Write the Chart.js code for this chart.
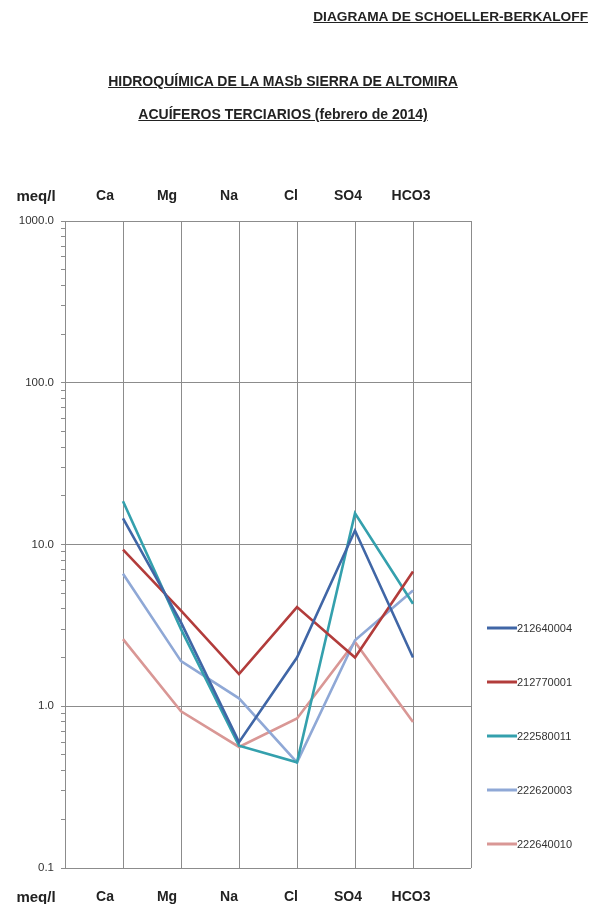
<!DOCTYPE html>
<html>
<head>
<meta charset="utf-8">
<script src="https://cdn.jsdelivr.net/npm/chart.js@4"></script>
<style>
  body { margin: 0; background: #fff; font-family: "Liberation Sans", Arial, sans-serif; }
  #wrap { position: relative; width: 593px; height: 904px; }
  canvas { position: absolute; left: 0; top: 0; }
  .t { position: absolute; font-weight: bold; color: #222; text-decoration: underline; white-space: nowrap; }
  .lab { position: absolute; font-weight: bold; font-size: 14px; color: #222; transform: translateX(-50%); white-space: nowrap; }
</style>
</head>
<body>
<div id="wrap">
  <canvas id="chart" width="593" height="904"></canvas>
  <div class="t" style="right:5px; top:9px; font-size:13.7px;">DIAGRAMA DE SCHOELLER-BERKALOFF</div>
  <div class="t" style="left:0; width:566px; text-align:center; top:73px; font-size:14px;">HIDROQUÍMICA DE LA MASb SIERRA DE ALTOMIRA</div>
  <div class="t" style="left:0; width:566px; text-align:center; top:106px; font-size:14px;">ACUÍFEROS TERCIARIOS (febrero de 2014)</div>
</div>
<script>
// Schoeller-Berkaloff diagram
var ions = ["Ca", "Mg", "Na", "Cl", "SO4", "HCO3"];
var unitLabel = "meq/l";
var yTickLabels = ["0.1", "1.0", "10.0", "100.0", "1000.0"];

var s212640004 = [14.5, 3.3, 0.6, 2.0, 12.2, 2.0];
var s212770001 = [9.3, 3.9, 1.58, 4.1, 2.0, 6.8];
var s222580011 = [18.5, 3.0, 0.57, 0.45, 15.6, 4.3];
var s222620003 = [6.6, 1.9, 1.12, 0.45, 2.56, 5.2];
var s222640010 = [2.6, 0.93, 0.56, 0.84, 2.5, 0.80];

var seriesNames = ["212640004", "212770001", "222580011", "222620003", "222640010"];
var seriesColors = ["#4066a6", "#b23c3b", "#34a0ad", "#8fa8d6", "#d99795"];
var seriesValues = [s212640004, s212770001, s222580011, s222620003, s222640010];

// header / footer row of ion names (text boxes, not tied to the gridlines)
var labelX = [36, 105, 167, 229, 291, 348, 411];
var wrap = document.getElementById("wrap");
[unitLabel].concat(ions).forEach(function (txt, i) {
  [187, 888].forEach(function (top) {
    var d = document.createElement("div");
    d.className = "lab";
    if (i === 0) d.style.fontSize = "15px";
    d.style.left = labelX[i] + "px";
    d.style.top = top + "px";
    d.textContent = txt;
    wrap.appendChild(d);
  });
});

function toPoints(vals) {
  return vals.map(function (v, i) { return { x: i + 1, y: v }; });
}

var datasets = seriesValues.map(function (vals, i) {
  return {
    label: seriesNames[i],
    data: toPoints(vals),
    borderColor: seriesColors[i],
    backgroundColor: seriesColors[i],
    borderWidth: 2.6,
    pointRadius: 0,
    tension: 0,
    fill: false
  };
});

function isDecade(v) {
  var l = Math.log10(v);
  return Math.abs(l - Math.round(l)) < 1e-9;
}

var yTicks = [];
[0.1, 1, 10, 100].forEach(function (d) {
  for (var k = 1; k < 10; k++) yTicks.push(Math.round(d * k * 1000) / 1000);
});
yTicks.push(1000);

// legend drawn to the right of the plot
var sideLegend = {
  id: "sideLegend",
  afterDraw: function (chart) {
    var ctx = chart.ctx;
    ctx.save();
    ctx.font = "11px 'Liberation Sans', Arial, sans-serif";
    ctx.textBaseline = "middle";
    ctx.textAlign = "left";
    chart.data.datasets.forEach(function (ds, i) {
      var y = 628 + i * 54;
      ctx.strokeStyle = ds.borderColor;
      ctx.lineWidth = 3;
      ctx.beginPath();
      ctx.moveTo(487, y);
      ctx.lineTo(517, y);
      ctx.stroke();
      ctx.fillStyle = "#333";
      ctx.fillText(ds.label, 517, y + 1);
    });
    ctx.restore();
  }
};

function ionAxis(pos) {
  return {
    type: "linear",
    position: pos,
    min: 0,
    max: 7,
    afterBuildTicks: function (s) {
      s.ticks = [0, 1, 2, 3, 4, 5, 6, 7].map(function (v) { return { value: v }; });
    },
    ticks: { display: false },
    grid: { color: "#8c8c8c", lineWidth: 1, drawTicks: false },
    border: { display: false },
    afterFit: function (s) { s.height = pos === "top" ? 221 : 36; }
  };
}

new Chart(document.getElementById("chart"), {
  type: "line",
  data: { datasets: datasets },
  plugins: [sideLegend],
  options: {
    responsive: false,
    animation: false,
    layout: { padding: { left: 0, right: 122, top: 0, bottom: 0 } },
    plugins: { legend: { display: false }, title: { display: false }, tooltip: { enabled: false } },
    scales: {
      x: ionAxis("bottom"),
      xTop: ionAxis("top"),
      y: {
        type: "logarithmic",
        min: 0.1,
        max: 1000,
        afterBuildTicks: function (s) {
          s.ticks = yTicks.map(function (v) { return { value: v }; });
        },
        afterFit: function (s) { s.width = 65; },
        ticks: {
          autoSkip: false,
          padding: 7,
          color: "#333",
          font: { family: "'Liberation Sans', Arial, sans-serif", size: 11.5 },
          callback: function (v) {
            if (!isDecade(v)) return "";
            return yTickLabels[Math.round(Math.log10(v)) + 1];
          }
        },
        grid: {
          color: function (c) { return c.tick && isDecade(c.tick.value) ? "#8c8c8c" : "rgba(0,0,0,0)"; },
          tickColor: "#8c8c8c",
          tickLength: 4,
          lineWidth: 1
        },
        border: { display: true, color: "#8c8c8c" }
      }
    }
  }
});
</script>
</body>
</html>
